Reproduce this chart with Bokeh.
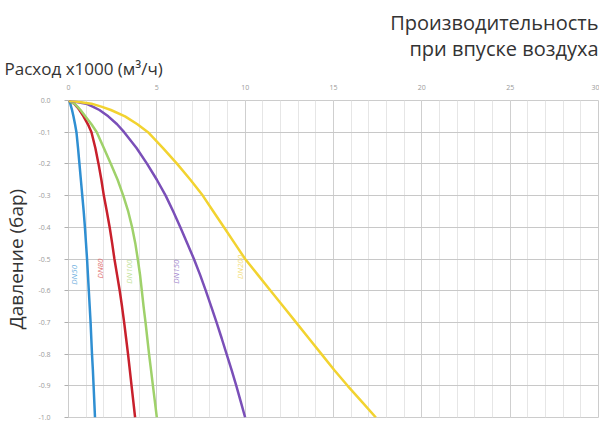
from bokeh.plotting import figure
from bokeh.models import FixedTicker, Range1d, ColumnDataSource, Title
from bokeh.core.properties import value
from bokeh.embed import file_html
from bokeh.resources import INLINE
import math

# --- data ---
pressure = [0.0, -0.01, -0.02, -0.03, -0.05, -0.075, -0.1, -0.15, -0.2, -0.25, -0.3, -0.35,
            -0.4, -0.45, -0.5, -0.55, -0.6, -0.65, -0.7, -0.75, -0.8, -0.85, -0.9, -0.95, -1.0]
dn50 = [0.0, 0.1, 0.15, 0.2, 0.28, 0.37, 0.45, 0.54, 0.62, 0.7, 0.78, 0.86,
        0.93, 0.99, 1.05, 1.1, 1.15, 1.2, 1.25, 1.29, 1.33, 1.38, 1.42, 1.46, 1.5]
dn80 = [0.0, 0.32, 0.48, 0.62, 0.85, 1.1, 1.3, 1.52, 1.7, 1.86, 2.0, 2.17,
        2.33, 2.47, 2.6, 2.75, 2.9, 3.03, 3.15, 3.26, 3.37, 3.47, 3.57, 3.67, 3.77]
dn100 = [0.0, 0.33, 0.52, 0.68, 0.95, 1.3, 1.6, 2.0, 2.4, 2.78, 3.1, 3.38,
         3.6, 3.78, 3.92, 4.05, 4.15, 4.25, 4.36, 4.46, 4.56, 4.67, 4.78, 4.89, 5.0]
dn150 = [0.0, 1.0, 1.4, 1.75, 2.25, 2.75, 3.15, 3.85, 4.45, 5.0, 5.5, 5.93,
         6.33, 6.72, 7.1, 7.45, 7.77, 8.08, 8.38, 8.67, 8.95, 9.23, 9.5, 9.75, 10.0]
dn200 = [0.0, 1.3, 1.9, 2.4, 3.2, 3.9, 4.5, 5.35, 6.15, 6.9, 7.6, 8.2,
         8.8, 9.4, 10.0, 10.72, 11.44, 12.16, 12.88, 13.6, 14.32, 15.04, 15.8, 16.6, 17.4]

series_names = ["DN50", "DN80", "DN100", "DN150", "DN200"]
series_values = [dn50, dn80, dn100, dn150, dn200]
series_colors = ["#2f8fd2", "#c8202c", "#9fd16a", "#7a4fb8", "#f2d330"]
label_colors = ["#6fb0e0", "#e07070", "#c2e29a", "#a488cf", "#f3de7a"]
label_x = [0.3, 1.75, 3.4, 6.05, 9.7]
label_y = [-0.55, -0.53, -0.54, -0.54, -0.525]

x_ticks = [0, 5, 10, 15, 20, 25, 30]
y_ticks = [0.0, -0.1, -0.2, -0.3, -0.4, -0.5, -0.6, -0.7, -0.8, -0.9, -1.0]
y_tick_labels = ["0.0", "-0.1", "-0.2", "-0.3", "-0.4", "-0.5", "-0.6", "-0.7", "-0.8", "-0.9", "-1.0"]

title_line1 = "Производительность"
title_line2 = "при впуске воздуха"
x_title = "Расход x1000 (м³/ч)"
y_title = "Давление (бар)"

FONT = "Open Sans"

p = figure(width=599, height=423, output_backend="svg", toolbar_location=None,
           x_axis_location="above", title_location=None,
           min_border_left=64, min_border_right=1,
           min_border_top=0, min_border_bottom=6)
p.x_range = Range1d(0, 30)
p.y_range = Range1d(-1.0, 0.0)

p.xaxis.ticker = FixedTicker(ticks=x_ticks, minor_ticks=list(range(0, 31)))
p.yaxis.ticker = FixedTicker(ticks=y_ticks)
p.yaxis.major_label_overrides = {t: s for t, s in zip(y_ticks, y_tick_labels)}

for ax in (p.xaxis, p.yaxis):
    ax.axis_line_color = None
    ax.major_label_text_color = "#9a9a9a"
    ax.major_label_text_font = FONT
    ax.major_label_text_font_size = "7px"
    ax.minor_tick_line_color = None
p.xaxis.major_tick_line_color = None
p.xaxis.major_tick_out = 0
p.xaxis.major_tick_in = 0
p.yaxis.major_tick_line_color = "#b0b0b0"
p.yaxis.major_tick_in = 0
p.yaxis.major_tick_out = 4
p.yaxis.major_label_standoff = 14
p.xaxis.major_label_standoff = 7

p.yaxis.axis_label = y_title
p.yaxis.axis_label_text_font = FONT
p.yaxis.axis_label_text_font_style = "normal"
p.yaxis.axis_label_text_font_size = "19px"
p.yaxis.axis_label_text_color = "#333333"
p.yaxis.axis_label_standoff = 6

p.xgrid.grid_line_color = "#cfcfcf"
p.xgrid.minor_grid_line_color = "#e6e6e6"
p.ygrid.grid_line_color = "#c8c8c8"
p.outline_line_color = "#cccccc"

for name, xs, col in zip(series_names, series_values, series_colors):
    p.line(xs, pressure, line_color=col, line_width=2.5)

src = ColumnDataSource(dict(x=label_x, y=label_y, t=series_names, c=label_colors))
p.text(x="x", y="y", text="t", text_color="c", angle=math.pi / 2,
       text_align="center", text_baseline="middle", text_font=value(FONT),
       text_font_size="8px", text_font_style="italic", source=src)

# stacked above the x axis: first added is nearest to the plot
p.add_layout(Title(text=x_title, align="left", text_font=FONT, text_font_size="17px",
                   text_font_style="normal", text_color="#333333",
                   offset=-64, standoff=4), "above")
p.add_layout(Title(text=title_line2, align="right", text_font=FONT, text_font_size="20px",
                   text_font_style="normal", text_color="#333333",
                   offset=0, standoff=-18), "above")
p.add_layout(Title(text=title_line1, align="right", text_font=FONT, text_font_size="20px",
                   text_font_style="normal", text_color="#333333",
                   offset=0, standoff=12), "above")

open("out.html", "w").write(file_html(p, INLINE))
